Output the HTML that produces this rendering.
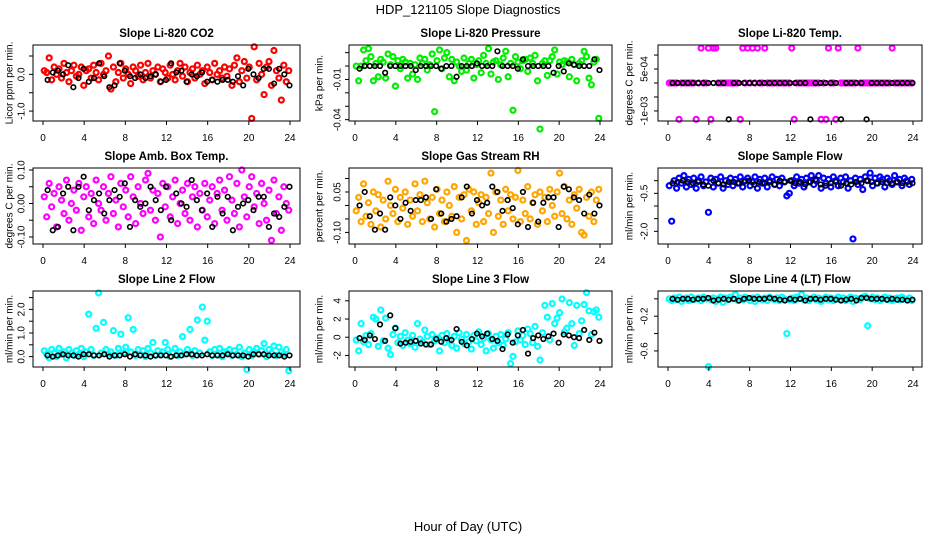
<!DOCTYPE html>
<html><head><meta charset="utf-8"><style>
html,body{margin:0;padding:0;background:#fff;}
svg{display:block;font-family:"Liberation Sans",Arial,sans-serif;}
</style></head><body>
<svg id="chart" width="936" height="540" viewBox="0 0 936 540" xmlns="http://www.w3.org/2000/svg">
<text x="468" y="14" text-anchor="middle" font-size="13">HDP_121105  Slope Diagnostics</text>
<text x="468" y="531" text-anchor="middle" font-size="13">Hour of Day (UTC)</text>
</svg>
<script>
const xTicks = [0,4,8,12,16,20,24];
const co2Color = [0.1,0.05,0.45,-0.15,0.2,0.0,0.15,-0.1,0.3,0.05,-0.2,0.1,0.25,-0.05,0.0,0.2,-0.3,0.1,0.15,-0.1,0.25,0.05,-0.15,0.3,0.0,0.1,0.5,-0.4,0.2,-0.2,0.05,0.3,-0.1,0.15,0.0,-0.25,0.2,0.1,-0.05,0.25,-0.15,0.05,0.3,-0.1,0.1,0.0,0.2,-0.2,0.15,0.05,-0.1,0.25,0.0,-0.15,0.1,0.3,-0.05,0.2,-0.2,0.05,0.15,-0.1,0.25,0.0,0.1,-0.25,0.2,0.05,-0.15,0.3,0.0,0.1,-0.1,0.2,-0.05,0.15,-0.3,0.25,0.45,-0.2,0.1,0.35,-0.1,0.2,-1.2,0.75,-0.15,0.3,0.0,-0.55,0.2,0.35,-0.3,0.65,0.1,-0.1,-0.7,0.25,-0.2,0.1];
const co2Black = [-0.15,0.05,0.1,0.0,0.25,-0.35,-0.1,0.15,-0.2,-0.1,0.3,-0.05,-0.35,-0.3,0.3,0.1,-0.05,-0.1,0.0,-0.1,-0.05,0.0,-0.2,-0.15,0.3,0.05,0.1,-0.2,0.0,-0.05,0.05,-0.2,-0.15,-0.2,-0.15,-0.15,-0.2,-0.05,-0.3,0.15,0.0,-0.1,0.15,0.15,-0.25,0.15,0.0,-0.3];
const presColor = [0.0,-0.011,0.0,0.012,0.004,0.013,0.007,-0.011,0.002,-0.008,0.005,0.003,-0.009,0.009,0.001,0.007,-0.015,0.004,-0.002,0.005,0.003,-0.009,0.002,-0.006,0.001,-0.01,0.006,0.002,0.005,-0.003,0.001,0.009,-0.034,0.004,0.012,-0.002,0.006,0.01,-0.008,0.005,-0.011,0.003,0.0,-0.004,0.006,-0.003,0.002,0.005,-0.009,0.001,0.004,-0.005,0.008,0.002,0.013,-0.006,0.003,0.004,-0.01,0.001,0.006,0.011,-0.008,0.002,-0.033,0.007,0.003,-0.002,0.004,0.005,-0.004,0.006,0.002,0.008,-0.011,-0.047,0.002,0.004,-0.007,0.004,0.007,0.012,-0.006,0.003,0.001,0.004,0.003,-0.008,0.005,0.001,-0.011,0.002,0.004,0.011,0.007,-0.009,-0.014,0.003,0.005,-0.039];
const presBlack = [-0.002,0.0,0.0,0.0,0.0,-0.005,0.0,0.0,0.0,0.0,0.0,-0.003,0.0,0.0,0.0,0.0,-0.002,0.0,0.0,-0.008,0.0,0.0,0.0,0.002,0.0,0.0,0.0,0.011,0.0,0.0,0.0,-0.002,0.005,0.0,0.0,0.0,0.0,0.0,-0.005,0.0,-0.004,0.002,0.001,0.0,0.0,0.0,0.005,-0.003];
const tempColor = [0,0,0,0,-0.0013,0,0,0,0,0,0,-0.0013,0,0.00125,0,0,0.00125,-0.0013,0.00125,0.00125,0,0,0,0,0,0,0,0,0,-0.0013,0.00125,0,0.00125,0,0.00125,0,0.00125,0,0,0.00125,0,0,0,0,0,0,0,0,0,0,0.00125,-0.0013,0,0,0,0,0,0,0,0,0,0,-0.0013,0,-0.0013,0.00125,0,0,-0.0013,0.00125,0,0,0,0,0,0,0,0.00125,0,0,0,0,0,0,0,0,0,0,0,0,0,0.00125,0,0,0,0,0,0,0,0];
const tempBlack = [0,0,0,0,0,0,0,0,0,0,0,-0.0013,0,0,0,0,0,0,0,0,0,0,0,0,0,0,0,-0.0013,0,0,0,0,0,-0.0013,0,0,0,0,-0.0013,0,0,0,0,0,0,0,0,0];
const ambColor = [0.02,-0.04,0.06,-0.01,0.03,-0.07,0.05,0.01,-0.03,0.07,-0.05,0.0,0.04,-0.02,0.06,-0.08,0.02,0.05,-0.04,0.03,-0.06,0.07,0.0,-0.02,0.05,-0.05,0.03,0.08,-0.03,0.01,-0.07,0.06,-0.01,0.04,-0.04,0.08,0.02,-0.06,0.05,0.0,-0.03,0.07,0.09,-0.02,0.04,-0.05,0.03,-0.1,0.06,-0.01,0.05,-0.04,0.02,0.07,-0.06,0.0,0.04,-0.03,0.06,-0.05,0.02,0.05,-0.07,0.03,-0.02,0.06,-0.04,0.01,0.05,-0.06,0.03,0.07,-0.02,0.04,-0.05,0.08,0.01,-0.03,0.06,-0.07,0.1,0.02,-0.04,0.05,0.08,-0.01,0.03,-0.06,0.06,0.0,-0.05,0.04,-0.11,0.07,-0.03,0.02,-0.08,0.05,0.0,-0.02];
const ambBlack = [0.04,-0.08,-0.07,0.03,0.05,-0.08,0.05,0.08,-0.02,0.01,0.03,-0.03,0.01,0.04,0.02,0.06,-0.07,0.01,-0.01,0.0,0.05,0.01,-0.02,0.05,-0.05,0.03,0.0,-0.01,0.07,0.01,-0.02,0.03,-0.07,0.02,-0.03,0.02,-0.08,-0.01,0.0,0.01,-0.02,0.02,0.02,-0.07,-0.03,-0.04,-0.01,0.05];
const rhColor = [-0.02,0.03,-0.06,0.08,-0.04,0.01,-0.07,0.05,-0.02,0.04,-0.08,0.02,-0.05,0.09,0.0,-0.03,0.06,-0.06,0.03,-0.01,0.05,-0.07,0.02,-0.04,0.08,-0.02,0.04,-0.06,0.09,0.01,-0.05,0.03,-0.08,0.06,-0.03,0.02,-0.06,0.05,0.0,-0.04,0.07,-0.1,0.03,-0.05,0.04,-0.13,0.06,-0.02,0.05,-0.07,0.01,0.04,-0.06,0.03,-0.03,0.12,-0.1,0.05,-0.04,0.02,-0.07,0.06,-0.02,0.04,-0.05,0.03,0.13,-0.06,0.02,-0.03,0.07,-0.05,0.01,0.04,-0.07,0.05,-0.02,0.03,-0.06,0.06,0.0,-0.04,0.05,0.12,-0.03,0.07,-0.05,0.02,-0.07,0.04,-0.01,0.06,-0.1,-0.11,0.03,-0.04,0.05,-0.06,0.02,0.06];
const rhBlack = [0.0,0.05,-0.04,-0.09,-0.03,-0.09,0.03,0.0,-0.05,0.01,-0.02,0.02,0.02,0.03,-0.05,0.06,-0.03,-0.06,-0.05,-0.04,0.03,0.07,-0.03,0.02,0.0,0.01,0.07,0.05,-0.02,0.02,-0.01,-0.07,0.05,-0.08,0.01,-0.06,0.01,0.03,0.03,-0.08,0.07,0.06,0.03,0.02,-0.03,0.04,-0.03,0.0];
const sfColor = [-0.2,-1.6,0.0,-0.3,0.1,-0.1,0.2,-0.25,0.05,-0.15,0.1,-0.3,0.0,0.15,-0.2,-0.05,-1.25,0.1,-0.25,0.05,-0.1,0.15,-0.3,0.0,-0.15,0.1,-0.2,0.05,-0.1,0.15,-0.25,0.0,0.1,-0.2,-0.05,0.15,-0.3,0.05,-0.1,0.1,-0.25,0.0,0.15,-0.15,0.05,-0.2,0.1,-0.05,-0.6,-0.5,0.0,-0.2,0.15,-0.1,0.05,-0.25,0.1,-0.05,0.2,-0.15,0.0,0.2,-0.3,0.1,-0.1,0.05,-0.25,0.15,0.0,-0.2,0.1,-0.05,0.15,-0.3,0.0,-2.3,0.1,-0.15,0.05,-0.35,0.15,0.0,0.3,-0.2,0.1,-0.1,0.15,0.05,-0.25,0.1,0.0,-0.15,0.2,-0.05,0.05,-0.2,0.1,0.0,-0.15,0.05];
const sfBlack = [-0.1,-0.05,0.0,-0.05,-0.1,-0.05,-0.15,-0.2,0.0,-0.1,-0.15,-0.05,-0.05,-0.1,-0.05,0.0,-0.15,-0.05,-0.1,-0.05,-0.15,0.0,-0.05,0.0,-0.1,-0.05,-0.15,-0.05,0.05,-0.15,-0.2,-0.1,-0.05,-0.2,-0.1,-0.15,-0.05,-0.1,0.0,-0.05,-0.1,-0.05,-0.1,-0.1,-0.05,-0.1,-0.05,-0.1];
const l2Color = [0.25,0.1,-0.05,0.3,0.15,0.0,0.35,0.1,0.2,-0.05,0.3,0.15,0.05,0.25,0.1,0.35,0.0,0.2,1.8,0.3,0.05,1.2,2.7,0.15,1.45,0.3,0.1,0.2,1.1,0.05,0.35,0.95,0.15,0.4,1.65,0.2,1.15,0.05,0.3,0.1,0.25,0.0,0.35,0.15,0.6,0.05,0.25,0.1,0.2,0.6,0.3,0.0,0.15,0.35,0.05,0.2,0.85,0.1,0.3,1.15,0.05,0.25,1.55,0.15,2.1,0.7,1.5,0.2,0.05,0.3,0.1,0.35,0.0,0.2,0.15,0.3,0.05,0.25,0.1,0.4,0.0,0.15,-0.55,0.3,0.05,0.2,0.35,0.1,0.25,0.55,0.0,0.3,0.15,0.45,0.05,0.4,0.2,0.1,0.3,-0.6];
const l2Black = [0.05,0.0,0.05,0.1,0.05,0.05,0.0,0.1,0.1,0.05,0.05,0.1,0.0,0.05,0.05,0.1,0.0,0.1,0.05,0.05,0.0,0.05,0.05,0.05,0.0,0.05,0.05,0.1,0.1,0.05,0.05,0.1,0.05,0.05,0.05,0.1,0.05,0.05,0.05,0.0,0.1,0.1,0.1,0.05,0.05,0.05,0.0,0.05];
const l3Color = [-0.3,-1.5,1.5,-0.5,0.2,-0.8,0.4,2.2,2.0,-1.0,3.0,-0.4,2.1,-1.2,-1.9,0.3,1.0,-0.6,0.1,-0.9,0.5,-0.3,-0.7,0.2,-1.1,1.5,-0.2,-0.5,0.8,0.1,-0.8,0.3,-0.4,-0.1,-1.5,0.2,-0.6,0.4,-0.3,-0.9,0.1,-1.2,0.5,-0.2,-0.7,0.3,-0.5,-1.3,0.2,-0.4,0.6,-0.8,-0.1,-1.5,0.4,-0.3,-1.2,0.1,-0.6,0.3,-0.9,-0.2,0.5,-2.9,-2.1,-0.5,0.7,-0.3,0.2,-0.8,0.9,0.4,-0.6,1.2,-1.0,-2.5,0.5,3.5,2.2,-0.3,3.7,1.5,2.1,2.7,4.2,0.6,1.0,3.8,1.5,-0.9,3.5,0.4,1.8,3.6,4.9,2.9,0.3,2.8,3.0,2.2];
const l3Black = [-0.1,-0.3,0.2,-0.2,1.4,-0.4,2.4,1.0,-0.7,-0.6,-0.5,-0.4,-0.7,-0.8,-0.8,-0.2,-0.5,-0.1,-0.3,0.9,-0.5,-0.9,-0.2,0.4,0.1,0.4,-0.2,-0.4,-1.3,0.3,-0.6,0.2,0.8,-1.8,-0.1,0.2,-0.2,0.1,0.4,-0.6,0.3,0.2,0.0,-0.1,0.8,-0.3,0.5,-0.4];
const l4Color = [0.0,-0.02,0.01,-0.01,0.02,-0.03,0.0,0.01,-0.02,0.02,-0.01,0.0,0.01,-0.02,0.02,0.0,-0.78,-0.01,0.01,-0.03,0.0,0.02,-0.04,0.01,-0.01,0.02,0.0,0.05,-0.02,0.01,-0.01,0.02,0.0,-0.02,0.01,-0.03,0.02,0.0,-0.01,0.01,-0.02,0.02,0.0,-0.01,0.01,-0.02,0.02,0.0,-0.4,-0.01,0.01,-0.02,0.02,0.0,0.05,-0.01,0.01,-0.02,0.0,0.02,-0.01,0.01,-0.03,0.0,0.02,-0.01,0.01,-0.02,0.0,0.02,-0.01,0.01,-0.02,0.0,0.02,-0.03,0.01,0.0,-0.01,0.02,0.03,-0.31,0.0,0.02,-0.01,0.01,-0.02,0.0,0.02,-0.01,0.01,-0.02,0.0,0.01,-0.01,0.02,0.0,-0.01,0.01,-0.02];
const l4Black = [0.0,-0.01,0.0,0.0,-0.01,0.0,0.0,0.01,-0.02,-0.01,0.0,-0.01,0.0,-0.02,0.0,0.01,0.0,0.0,0.0,0.01,0.0,-0.01,-0.02,0.0,-0.01,0.0,-0.02,0.0,0.0,-0.01,0.0,0.0,-0.01,-0.02,-0.01,0.0,-0.02,0.01,0.01,0.0,0.0,0.0,-0.01,0.0,-0.01,-0.01,-0.02,-0.01];

const panels = [
 {name:'co2',title:'Slope Li-820 CO2',ylab:'Licor ppm per min.',col:0,row:0,ymin:-1.27,ymax:0.8,ticks:[-1,-0.5,0,0.5],labels:[[0,'0.0'],[-1,'-1.0']],color:'#ff0000',cv:co2Color,bv:co2Black},
 {name:'pressure',title:'Slope Li-820 Pressure',ylab:'kPa per min.',col:1,row:0,ymin:-0.041,ymax:0.0157,ticks:[-0.04,-0.03,-0.02,-0.01,0,0.01],labels:[[-0.01,'-0.01'],[-0.04,'-0.04']],color:'#00ee00',cv:presColor,bv:presBlack},
 {name:'temp',title:'Slope Li-820 Temp.',ylab:'degrees C per min.',col:2,row:0,ymin:-0.00136,ymax:0.00136,ticks:[-0.001,-0.0005,0,0.0005,0.001],labels:[[-0.001,'-1e-03'],[0.0005,'5e-04']],color:'#ff00ff',cv:tempColor,bv:tempBlack},
 {name:'amb-box-temp',title:'Slope Amb. Box Temp.',ylab:'degrees C per min.',col:0,row:1,ymin:-0.121,ymax:0.106,ticks:[-0.1,-0.05,0,0.05,0.1],labels:[[-0.1,'-0.10'],[0,'0.00'],[0.1,'0.10']],color:'#ff00ff',cv:ambColor,bv:ambBlack},
 {name:'gas-stream-rh',title:'Slope Gas Stream RH',ylab:'percent per min.',col:1,row:1,ymin:-0.143,ymax:0.139,ticks:[-0.1,-0.05,0,0.05,0.1],labels:[[-0.1,'-0.10'],[0.05,'0.05']],color:'#ffa500',cv:rhColor,bv:rhBlack},
 {name:'sample-flow',title:'Slope Sample Flow',ylab:'ml/min per min.',col:2,row:1,ymin:-2.5,ymax:0.5,ticks:[-2,-1.5,-1,-0.5,0],labels:[[-2,'-2.0'],[-0.5,'-0.5']],color:'#0000ff',cv:sfColor,bv:sfBlack},
 {name:'line2-flow',title:'Slope Line 2 Flow',ylab:'ml/min per min.',col:0,row:2,ymin:-0.44,ymax:2.78,ticks:[0,0.5,1,1.5,2,2.5],labels:[[0,'0.0'],[1,'1.0'],[2,'2.0']],color:'#00ffff',cv:l2Color,bv:l2Black},
 {name:'line3-flow',title:'Slope Line 3 Flow',ylab:'ml/min per min.',col:1,row:2,ymin:-3.27,ymax:5.08,ticks:[-2,0,2,4],labels:[[-2,'-2'],[0,'0'],[2,'2'],[4,'4']],color:'#00ffff',cv:l3Color,bv:l3Black},
 {name:'line4-flow',title:'Slope Line 4 (LT) Flow',ylab:'ml/min per min.',col:2,row:2,ymin:-0.785,ymax:0.09,ticks:[-0.6,-0.4,-0.2,0],labels:[[-0.2,'-0.2'],[-0.6,'-0.6']],color:'#00ffff',cv:l4Color,bv:l4Black}
];
const cols = [{x0:33,x1:300,h0:43,h24:290,tl:22,yt:10},{x0:349,x1:612,h0:355,h24:600,tl:338,yt:320},{x0:658,x1:922,h0:668,h24:913,tl:645,yt:630}];
const rows = [{y0:45,y1:121,title:37,xl:141},{y0:168,y1:244,title:160,xl:264},{y0:291,y1:367,title:283,xl:387}];
const NS='http://www.w3.org/2000/svg';
const svg=document.getElementById('chart');
function mk(tag,attrs,parent){const e=document.createElementNS(NS,tag);for(const k in attrs)e.setAttribute(k,attrs[k]);(parent||svg).appendChild(e);return e;}
panels.forEach(p=>{
 const c=cols[p.col], r=rows[p.row];
 const g=mk('g',{});
 
 
 const xs=h=>c.h0+(h/24)*(c.h24-c.h0);
 const ys=v=>r.y0+(p.ymax-v)/(p.ymax-p.ymin)*(r.y1-r.y0);
 const t=mk('text',{x:(c.x0+c.x1)/2,y:r.title,'text-anchor':'middle','font-size':'11.5','font-weight':'bold'},g);
 t.textContent=p.title;
 
 
 const yl=mk('text',{x:c.yt,y:(r.y0+r.y1)/2,'text-anchor':'middle','font-size':'10','transform':`rotate(-90 ${c.yt} ${(r.y0+r.y1)/2})`,'dominant-baseline':'middle'},g);
 yl.textContent=p.ylab;
 
 
 p.cv.forEach((v,i)=>{
  const pt=mk('circle',{cx:xs(0.12+i*0.24),cy:ys(v),r:2.5,fill:'none',stroke:p.color,'stroke-width':2.2},g);
  
  
 });
 p.bv.forEach((v,i)=>{
  const pt=mk('circle',{cx:xs((i+1)*0.5-0.05),cy:ys(v),r:2.3,fill:'none',stroke:'#000','stroke-width':1.6},g);
  
  
 });
 const box=mk('rect',{x:c.x0,y:r.y0,width:c.x1-c.x0,height:r.y1-r.y0,fill:'none',stroke:'#000','stroke-width':1},g);
 
 
 xTicks.forEach(h=>{
  mk('line',{x1:xs(h),x2:xs(h),y1:r.y1,y2:r.y1+4,stroke:'#000'},g);
  const tl=mk('text',{x:xs(h),y:r.xl,'text-anchor':'middle','font-size':'10'},g);
  tl.textContent=h;
  
  
 });
 p.ticks.forEach(v=>{mk('line',{x1:c.x0-4,x2:c.x0,y1:ys(v),y2:ys(v),stroke:'#000'},g);});
 p.labels.forEach(([v,s])=>{
  const lx=c.tl;
  const tl=mk('text',{x:lx,y:ys(v),'text-anchor':'middle','font-size':'10','dominant-baseline':'middle','transform':`rotate(-90 ${lx} ${ys(v)})`},g);
  tl.textContent=s;
  
  
 });
});
</script>
</body></html>
